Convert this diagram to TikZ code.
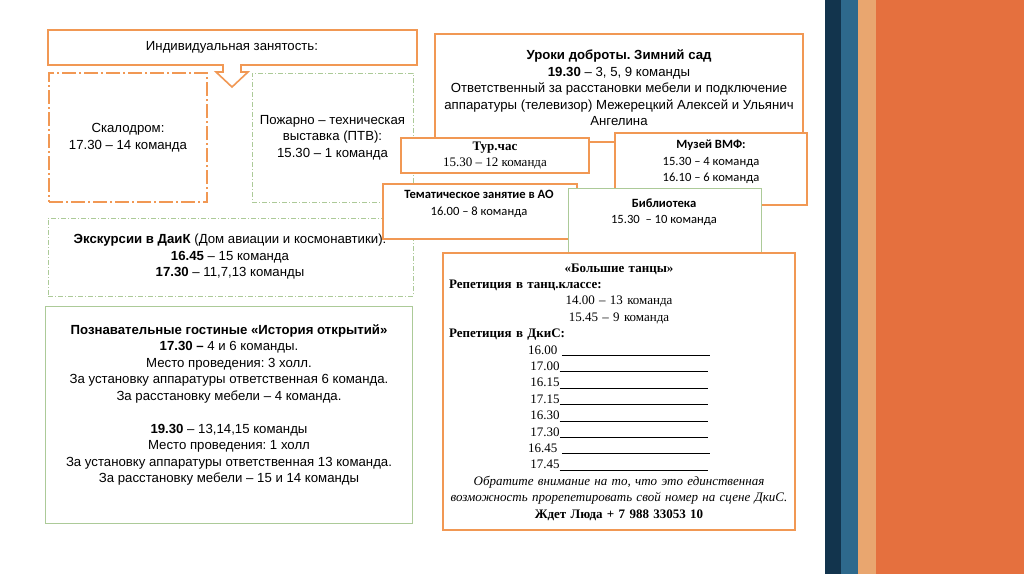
\documentclass[tikz,border=0pt]{standalone}
\usepackage{fontspec}
\setmainfont{Liberation Sans}
\newfontfamily\timesru{Liberation Serif}
\newfontfamily\calibriru{Carlito}
\usepackage{xcolor}
\usetikzlibrary{fit}
\frenchspacing
\definecolor{boxorange}{RGB}{241,152,84}
\definecolor{boxgreen}{RGB}{172,202,152}
\definecolor{stripeA}{RGB}{18,52,77}
\definecolor{stripeB}{RGB}{46,105,140}
\definecolor{stripeC}{RGB}{233,166,111}
\definecolor{stripeD}{RGB}{229,112,62}
\newcommand{\panel}[4]{\node[#2,fit={#3 #4}] (#1) {};}
\newcommand{\slot}[2]{#1#2\rule[-1.5pt]{148pt}{0.6pt}}
\tikzset{
  orbox/.style={draw=boxorange,line width=1.6pt,fill=white,inner sep=0pt},
  ordashbox/.style={orbox,line width=1.8pt,dash pattern=on 14pt off 3pt on 2pt off 3pt},
  grbox/.style={draw=boxgreen,line width=0.8pt,fill=white,inner sep=0pt},
  grdashbox/.style={grbox,dash pattern=on 5pt off 2pt on 1pt off 2pt},
  sanstxt/.style={align=center,inner sep=0pt,font=\fontsize{13.2}{16.5}\selectfont},
  serftxt/.style={align=center,inner sep=0pt,font=\timesru\fontsize{13}{16.4}\selectfont},
  calitxt/.style={align=center,inner sep=0pt,font=\calibriru\fontsize{12.6}{16.5}\selectfont},
}

\begin{document}
\begin{tikzpicture}[x=1pt,y=-1pt]
\useasboundingbox (0,0) rectangle (1024,574);
\fill[white] (0,0) rectangle (1024,574);
% left column
\draw[orbox] (48,30) -- (417,30) -- (417,65) -- (241,65) -- (241,72) -- (248,72) -- (232,87)
  -- (216,72) -- (223,72) -- (223,65) -- (48,65) -- cycle;
\node[sanstxt] (indiv) at (232,47) {Индивидуальная занятость:};
\panel{skalo}{ordashbox}{(49,73)}{(207,202)}
\node[sanstxt] (skalo-t) at (skalo.center) {Скалодром:\\17.30 – 14 команда};
\panel{ptv}{grdashbox}{(252,73)}{(413,202)}
\node[sanstxt] (ptv-t) at (ptv.center) {Пожарно – техническая\\выставка (ПТВ):\\15.30 – 1 команда};
\panel{daik}{grdashbox}{(48,218)}{(413,296)}
\node[sanstxt] (daik-t) at (230,257) {\textbf{Экскурсии в ДаиК} (Дом авиации и космонавтики):\\
  \textbf{16.45} – 15 команда\\\textbf{17.30} – 11,7,13 команды};
\panel{gost}{grbox}{(45,306)}{(412,523)}
\node[sanstxt] (gost-t) at (229,405) {\textbf{Познавательные гостиные «История открытий»}\\
  \textbf{17.30 –} 4 и 6 команды.\\Место проведения: 3 холл.\\
  За установку аппаратуры ответственная 6 команда.\\За расстановку мебели – 4 команда.\\[16.5pt]
  \textbf{19.30} – 13,14,15 команды\\Место проведения: 1 холл\\
  За установку аппаратуры ответственная 13 команда.\\За расстановку мебели – 15 и 14 команды};
% right column
\panel{uroki}{orbox}{(435,34)}{(803,142)}
\node[sanstxt] (uroki-t) at (619,88) {\textbf{Уроки доброты. Зимний сад}\\\textbf{19.30} – 3, 5, 9 команды\\
  Ответственный за расстановки мебели и подключение\\
  аппаратуры (телевизор) Межерецкий Алексей и Ульянич\\Ангелина};
\panel{tur}{orbox}{(401,138)}{(589,173)}
\node[serftxt] (tur-t) at (tur.center) {\textbf{Тур.час}\\15.30 – 12 команда};
\panel{vmf}{orbox}{(615,133)}{(807,205)}
\node[calitxt] (vmf-t) at (711,162) {\textbf{Музей ВМФ:}\\15.30 – 4 команда\\16.10 – 6 команда};
\panel{ao}{orbox}{(383,184)}{(577,239)}
\node[calitxt] (ao-t) at (479,204) {\textbf{Тематическое занятие в АО}\\16.00 – 8 команда};
\panel{bibl}{grbox}{(568,188)}{(761,252)}
\node[calitxt] (bibl-t) at (664,212) {\textbf{Библиотека}\\15.30~~– 10 команда};
\panel{tancy}{orbox}{(443,253)}{(795,530)}
\node[serftxt,text width=340pt] (tancy-t) at (619,392) {\textbf{«Большие танцы»}\\
  \makebox[340pt][l]{\textbf{Репетиция в танц.классе:}}\\14.00 – 13 команда\\15.45 – 9 команда\\
  \makebox[340pt][l]{\textbf{Репетиция в ДкиС:}}\\
  \slot{16.00}{ }\\\slot{17.00}{}\\\slot{16.15}{}\\\slot{17.15}{}\\
  \slot{16.30}{}\\\slot{17.30}{}\\\slot{16.45}{ }\\\slot{17.45}{}\\
  \textit{Обратите внимание на то, что это единственная}\\
  \textit{возможность прорепетировать свой номер на сцене ДкиС.}\\
  \textbf{Ждет Люда + 7 988 33053 10}};
% stripes
\fill[stripeA] (825,0) rectangle (841,574);
\fill[stripeB] (841,0) rectangle (858,574);
\fill[stripeC] (858,0) rectangle (876,574);
\fill[stripeD] (876,0) rectangle (1024,574);
\end{tikzpicture}
\end{document}
